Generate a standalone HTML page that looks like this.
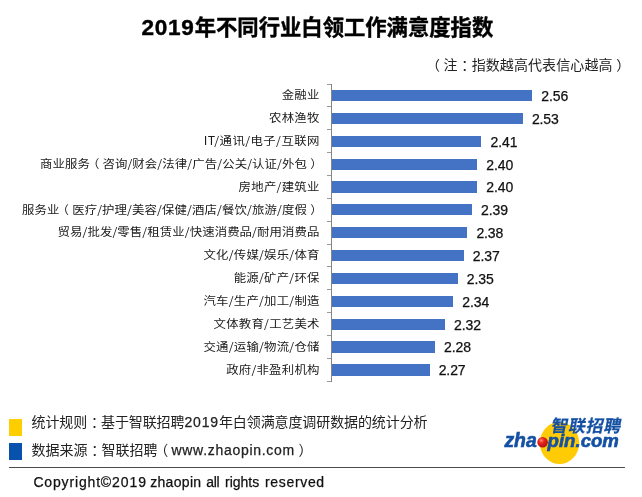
<!DOCTYPE html>
<html lang="zh-CN">
<head>
<meta charset="utf-8">
<title>2019年不同行业白领工作满意度指数</title>
<style>
html,body{margin:0;padding:0;background:#fff;}
body{width:642px;height:497px;position:relative;overflow:hidden;font-family:"Liberation Sans","Noto Sans CJK SC",sans-serif;color:#1a1a1a;}
.abs{position:absolute;white-space:nowrap;}
h1{position:absolute;margin:0;left:141.4px;top:12.5px;font-size:21.33px;line-height:30px;font-weight:bold;color:#000;white-space:nowrap;-webkit-text-stroke:0.4px #000;}
h1 .num{font-size:22.6px;letter-spacing:0.75px;}
.note{position:absolute;left:429.3px;top:55.3px;font-size:14px;line-height:20px;white-space:nowrap;color:#222;letter-spacing:0.1px;transform:scaleY(0.96);}
.pl{position:relative;left:-3.3px;}
.pc{position:relative;left:3.8px;}
.pr{position:relative;left:3.6px;}
.lab{position:absolute;height:20px;line-height:20px;font-size:12.4px;white-space:nowrap;text-align:right;color:#1a1a1a;font-family:"Noto Sans CJK SC","Liberation Sans",sans-serif;transform:scaleY(0.92);transform-origin:50% 50%;}
.lab .pl{left:-3px;}
.lab .pr{left:3.2px;}
.bar{position:absolute;left:332px;height:11.2px;background:#4472c4;}
.val{position:absolute;height:20px;line-height:20px;font-size:14px;white-space:nowrap;color:#111;letter-spacing:-0.1px;-webkit-text-stroke:0.25px #111;}
.axis{position:absolute;left:331.1px;top:83.55px;width:1px;height:298.2px;background:#858585;}
.tick{position:absolute;left:327px;width:4.2px;height:1px;background:#9a9a9a;}
.sq{position:absolute;left:9px;width:13px;}
.leg{position:absolute;left:31.5px;font-size:14px;line-height:20px;white-space:nowrap;color:#222;}
.leg .n2{letter-spacing:0.85px;-webkit-text-stroke:0.25px #222;}
.leg .url{letter-spacing:0.7px;position:relative;top:0.4px;-webkit-text-stroke:0.25px #222;}
.rule{position:absolute;left:9px;top:467px;width:616px;height:1px;background:#4a4a4a;}
.copy{position:absolute;left:33.4px;top:472px;font-size:14px;line-height:20px;height:20px;width:300px;white-space:pre;color:#111;-webkit-text-stroke:0.25px #111;}
.copy span{position:absolute;top:0;}
</style>
</head>
<body>
<h1><span class="num">2019</span>年不同行业白领工作满意度指数</h1>
<div class="note"><span class="pl">（</span>注<span class="pc">：</span>指数越高代表信心越高<span class="pr">）</span></div>
<div class="axis"></div>
<div class="tick" style="top:83.55px"></div>
<div class="tick" style="top:106.41px"></div>
<div class="tick" style="top:129.27px"></div>
<div class="tick" style="top:152.13px"></div>
<div class="tick" style="top:174.99px"></div>
<div class="tick" style="top:197.85px"></div>
<div class="tick" style="top:220.71px"></div>
<div class="tick" style="top:243.57px"></div>
<div class="tick" style="top:266.43px"></div>
<div class="tick" style="top:289.29px"></div>
<div class="tick" style="top:312.15px"></div>
<div class="tick" style="top:335.01px"></div>
<div class="tick" style="top:357.87px"></div>
<div class="tick" style="top:380.73px"></div>
<div class="lab" style="top:84.30px;letter-spacing:0.276px;right:322.32px">金融业</div>
<div class="bar" style="top:90.00px;width:200.1px"></div>
<div class="val" style="top:86.00px;left:541.3px">2.56</div>
<div class="lab" style="top:107.16px;letter-spacing:0.259px;right:322.34px">农林渔牧</div>
<div class="bar" style="top:112.86px;width:190.7px"></div>
<div class="val" style="top:108.86px;left:531.9px">2.53</div>
<div class="lab" style="top:130.02px;letter-spacing:0.415px;right:322.19px">IT/通讯/电子/互联网</div>
<div class="bar" style="top:135.72px;width:149.3px"></div>
<div class="val" style="top:131.72px;left:490.5px">2.41</div>
<div class="lab" style="top:152.88px;letter-spacing:0.097px;right:322.50px">商业服务<span class="pl">（</span>咨询/财会/法律/广告/公关/认证/外包<span class="pr">）</span></div>
<div class="bar" style="top:158.58px;width:145.1px"></div>
<div class="val" style="top:154.58px;left:486.3px">2.40</div>
<div class="lab" style="top:175.74px;letter-spacing:0.271px;right:322.33px">房地产/建筑业</div>
<div class="bar" style="top:181.44px;width:145.1px"></div>
<div class="val" style="top:177.44px;left:486.3px">2.40</div>
<div class="lab" style="top:198.60px;letter-spacing:0.114px;right:322.49px">服务业<span class="pl">（</span>医疗/护理/美容/保健/酒店/餐饮/旅游/度假<span class="pr">）</span></div>
<div class="bar" style="top:204.30px;width:139.9px"></div>
<div class="val" style="top:200.30px;left:481.1px">2.39</div>
<div class="lab" style="top:221.46px;letter-spacing:0.095px;right:322.50px">贸易/批发/零售/租赁业/快速消费品/耐用消费品</div>
<div class="bar" style="top:227.16px;width:135.2px"></div>
<div class="val" style="top:223.16px;left:476.4px">2.38</div>
<div class="lab" style="top:244.32px;letter-spacing:0.218px;right:322.38px">文化/传媒/娱乐/体育</div>
<div class="bar" style="top:250.02px;width:131.6px"></div>
<div class="val" style="top:246.02px;left:472.8px">2.37</div>
<div class="lab" style="top:267.18px;letter-spacing:0.230px;right:322.37px">能源/矿产/环保</div>
<div class="bar" style="top:272.88px;width:125.6px"></div>
<div class="val" style="top:268.88px;left:466.8px">2.35</div>
<div class="lab" style="top:290.04px;letter-spacing:0.218px;right:322.38px">汽车/生产/加工/制造</div>
<div class="bar" style="top:295.74px;width:121.1px"></div>
<div class="val" style="top:291.74px;left:462.3px">2.34</div>
<div class="lab" style="top:312.90px;letter-spacing:0.235px;right:322.36px">文体教育/工艺美术</div>
<div class="bar" style="top:318.60px;width:112.9px"></div>
<div class="val" style="top:314.60px;left:454.1px">2.32</div>
<div class="lab" style="top:335.76px;letter-spacing:0.218px;right:322.38px">交通/运输/物流/仓储</div>
<div class="bar" style="top:341.46px;width:102.8px"></div>
<div class="val" style="top:337.46px;left:444.0px">2.28</div>
<div class="lab" style="top:358.62px;letter-spacing:0.238px;right:322.36px">政府/非盈利机构</div>
<div class="bar" style="top:364.32px;width:97.5px"></div>
<div class="val" style="top:360.32px;left:438.7px">2.27</div>
<div class="sq" style="top:419px;height:16.5px;background:#ffce00"></div>
<div class="sq" style="top:443px;height:17px;background:#0852ad"></div>
<div class="leg" style="top:412px;letter-spacing:-0.1px">统计规则<span class="pc">：</span>基于智联招聘<span class="n2">2019</span>年白领满意度调研数据的统计分析</div>
<div class="leg" style="top:439.7px">数据来源<span class="pc">：</span>智联招聘<span class="pl">（</span><span class="url">www.zhaopin.com</span><span class="pr">）</span></div>
<div class="rule"></div>
<div class="copy"><span style="left:0.0px;letter-spacing:0.85px">Copyright</span><span style="left:67.3px;letter-spacing:0px">©</span><span style="left:78.6px;letter-spacing:0.97px">2019 </span><span style="left:116.8px;letter-spacing:0.32px">zhaopin </span><span style="left:172.9px;letter-spacing:-0.3px">all </span><span style="left:191.6px;letter-spacing:0px">rights </span><span style="left:231.6px;letter-spacing:0.67px">reserved</span></div>
<svg class="abs" style="left:495px;top:410px" width="140" height="58" viewBox="495 410 140 58">
<defs>
<radialGradient id="rb" cx="0.38" cy="0.32" r="0.75">
<stop offset="0" stop-color="#ff8a70"/><stop offset="0.35" stop-color="#e8261c"/><stop offset="1" stop-color="#a80c0c"/>
</radialGradient>
</defs>
<ellipse cx="559.5" cy="443" rx="19.7" ry="21" fill="#ffcb05"/>
<circle cx="542.6" cy="442.3" r="5.3" fill="url(#rb)"/>
<g fill="#1450a3" stroke="#1450a3" font-family="'Liberation Sans','Noto Sans CJK SC',sans-serif" font-weight="bold" font-style="italic">
<text x="504.4" y="447.3" font-size="19.4" stroke-width="0.6">zha</text>
<text x="547.6" y="447.3" font-size="18.6" stroke-width="0.6">pin.com</text>
<text x="550.3" y="432.2" font-size="17" letter-spacing="0.7" stroke-width="0.2" font-style="normal" transform="translate(550.3 432.2) skewX(-11) translate(-550.3 -432.2)">智联招聘</text>
</g>
</svg>
</body>
</html>
